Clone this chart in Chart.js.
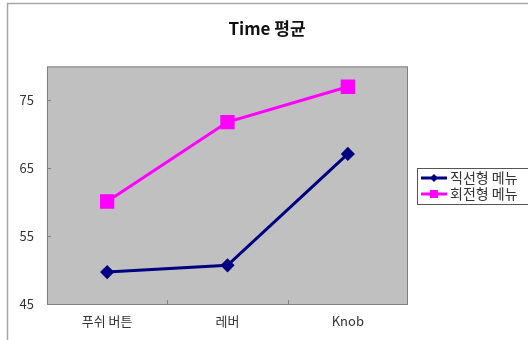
<!DOCTYPE html>
<html>
<head>
<meta charset="utf-8">
<script src="https://cdn.jsdelivr.net/npm/chart.js@4/dist/chart.umd.min.js"></script>
<style>
  html, body { margin: 0; padding: 0; background: #ffffff; }
  #wrap { width: 528px; height: 340px; }
</style>
</head>
<body>
<div id="wrap"><canvas id="c" width="528" height="340"></canvas></div>
<script>
// Categories and series (average time)
const categories = ['푸쉬 버튼', '레버', 'Knob'];
const linearMenu = [49.7, 50.7, 67.1];   // 직선형 메뉴
const rotaryMenu = [60.1, 71.8, 77.0];   // 회전형 메뉴
const yTicks = [45, 55, 65, 75];
const seriesNames = ['직선형 메뉴', '회전형 메뉴'];

const FONT = '"Noto Sans CJK KR", "Liberation Sans", sans-serif';

// Outer frame, gray plot area, inner tick marks and boxed legend
const decor = {
  id: 'decor',
  beforeDraw(chart) {
    const ctx = chart.ctx;
    const a = chart.chartArea;
    ctx.save();
    ctx.fillStyle = '#ffffff';
    ctx.fillRect(0, 0, chart.width, chart.height);
    ctx.strokeStyle = '#a6a6a6';
    ctx.lineWidth = 1.5;
    ctx.strokeRect(7.5, 3.5, 700, 500);
    ctx.fillStyle = '#c0c0c0';
    ctx.fillRect(a.left, a.top, a.right - a.left, a.bottom - a.top);
    ctx.restore();
  },
  afterDatasetsDraw(chart) {
    const ctx = chart.ctx;
    const a = chart.chartArea;
    const xs = chart.scales.x, ys = chart.scales.y;
    ctx.save();
    ctx.strokeStyle = '#808080';
    ctx.lineWidth = 1;
    ctx.strokeRect(a.left + 0.5, a.top + 0.5, a.right - a.left - 1, a.bottom - a.top);
    // y tick marks pointing into the plot
    ctx.beginPath();
    yTicks.forEach(v => {
      const y = Math.round(ys.getPixelForValue(v)) + 0.5;
      ctx.moveTo(a.left, y); ctx.lineTo(a.left + 4, y);
    });
    // x tick marks at the inner category boundaries
    for (let i = 1; i < categories.length; i++) {
      const x = Math.round(xs.getPixelForValue(i - 0.5)) + 0.5;
      ctx.moveTo(x, a.bottom); ctx.lineTo(x, a.bottom - 4);
    }
    ctx.stroke();

    // legend
    const lx = 417, ly = 168, lw = 200, lh = 36;
    ctx.fillStyle = '#ffffff';
    ctx.fillRect(lx, ly, lw, lh);
    ctx.strokeStyle = '#555555';
    ctx.strokeRect(lx + 0.5, ly + 0.5, lw, lh);
    chart.data.datasets.forEach((ds, i) => {
      const cy = ly + 10 + i * 16;
      ctx.strokeStyle = ds.borderColor;
      ctx.lineWidth = 3;
      ctx.beginPath();
      ctx.moveTo(421, cy); ctx.lineTo(447, cy);
      ctx.stroke();
      ctx.fillStyle = ds.pointBackgroundColor;
      if (ds.pointStyle === 'rectRot') {
        ctx.beginPath();
        ctx.moveTo(434, cy - 4); ctx.lineTo(438, cy); ctx.lineTo(434, cy + 4); ctx.lineTo(430, cy);
        ctx.closePath(); ctx.fill();
      } else {
        ctx.fillRect(430, cy - 4, 8, 8);
      }
      ctx.fillStyle = '#333333';
      ctx.font = '14px ' + FONT;
      ctx.textBaseline = 'middle';
      ctx.textAlign = 'left';
      ctx.fillText(ds.label, 450, cy);
    });
    ctx.restore();
  }
};

new Chart(document.getElementById('c'), {
  type: 'line',
  data: {
    labels: categories,
    datasets: [
      {
        label: seriesNames[0],
        data: linearMenu,
        borderColor: '#000080',
        backgroundColor: '#000080',
        pointBackgroundColor: '#000080',
        pointBorderColor: '#000080',
        pointStyle: 'rectRot',
        pointRadius: 5,
        borderWidth: 3,
        tension: 0
      },
      {
        label: seriesNames[1],
        data: rotaryMenu,
        borderColor: '#ff00ff',
        backgroundColor: '#ff00ff',
        pointBackgroundColor: '#ff00ff',
        pointBorderColor: '#ff00ff',
        pointStyle: 'rect',
        pointRadius: 8,
        borderWidth: 3,
        tension: 0
      }
    ]
  },
  options: {
    responsive: false,
    animation: false,
    layout: { padding: { top: 0, right: 0, bottom: 0, left: 6 } },
    plugins: {
      legend: { display: false },
      tooltip: { enabled: false },
      title: {
        display: true,
        text: 'Time 평균',
        color: '#111111',
        font: { family: FONT, size: 17, weight: 'bold', lineHeight: 1.2 },
        padding: { top: 18, bottom: 28 }
      }
    },
    scales: {
      x: {
        offset: true,
        grid: { display: false, drawTicks: false },
        border: { display: false },
        ticks: { color: '#333333', font: { family: FONT, size: 13 }, padding: 9 },
        afterFit(s) { s.height = 36; }
      },
      y: {
        min: 45,
        max: 80,
        grid: { display: false, drawTicks: false },
        border: { display: false },
        afterBuildTicks(s) { s.ticks = yTicks.map(v => ({ value: v })); },
        ticks: { color: '#333333', font: { family: FONT, size: 13 }, padding: 13 },
        afterFit(s) { s.width = 41; }
      },
      // empty right-hand axis that keeps room for the legend
      yLegend: {
        position: 'right',
        min: 45,
        max: 80,
        grid: { display: false, drawTicks: false },
        border: { display: false },
        ticks: { display: false },
        afterFit(s) { s.width = 120; }
      }
    }
  },
  plugins: [decor]
});
</script>
</body>
</html>
